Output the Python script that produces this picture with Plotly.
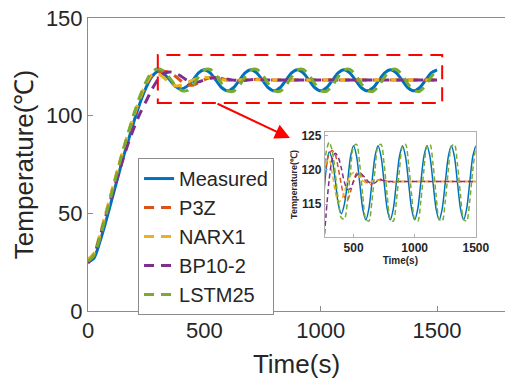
import plotly.graph_objects as go

# ---------------- data ----------------
time_s = list(range(0, 1501, 25))

measured = [25.0, 27.0, 35.0, 45.0, 56.0, 67.0, 78.0, 88.0, 98.0, 107.0,
            114.5, 120.0, 122.6, 121.5, 118.5, 115.0, 113.6, 115.0, 118.1, 121.9,
            123.5, 121.9, 118.1, 114.3, 112.7, 114.3, 118.1, 121.9,
            123.5, 121.9, 118.1, 114.3, 112.7, 114.3, 118.1, 121.9,
            123.5, 121.9, 118.1, 114.3, 112.7, 114.3, 118.1, 121.9,
            123.5, 121.9, 118.1, 114.3, 112.7, 114.3, 118.1, 121.9,
            123.5, 121.9, 118.1, 114.3, 112.7, 114.3, 118.1, 121.9,
            123.5]

p3z = [26.0, 29.0, 38.0, 49.0, 60.0, 71.0, 81.5, 91.5, 100.5, 109.0,
       116.0, 120.5, 122.3, 122.8, 122.2, 120.2, 117.8, 116.0, 115.6, 116.8,
       118.4, 119.5, 119.6, 119.0, 118.3, 117.9, 117.9, 118.2, 118.5, 118.6,
       118.5, 118.3, 118.2, 118.2, 118.3, 118.3, 118.3, 118.3, 118.3, 118.3,
       118.3, 118.3, 118.3, 118.3, 118.3, 118.3, 118.3, 118.3, 118.3, 118.3,
       118.3, 118.3, 118.3, 118.3, 118.3, 118.3, 118.3, 118.3, 118.3, 118.3,
       118.3]

narx1 = [26.5, 29.5, 38.5, 49.5, 60.5, 71.5, 82.0, 92.0, 101.0, 109.5,
         116.5, 121.0, 121.5, 119.5, 116.8, 115.3, 115.6, 116.8, 118.2, 119.2,
         119.6, 119.4, 118.9, 118.4, 118.1, 118.1, 118.3, 118.5, 118.5, 118.4,
         118.3, 118.3, 118.3, 118.3, 118.3, 118.3, 118.3, 118.3, 118.3, 118.3,
         118.3, 118.3, 118.3, 118.3, 118.3, 118.3, 118.3, 118.3, 118.3, 118.3,
         118.3, 118.3, 118.3, 118.3, 118.3, 118.3, 118.3, 118.3, 118.3, 118.3,
         118.3]

bp10_2 = [24.5, 28.5, 37.5, 48.0, 58.0, 68.0, 77.5, 86.5, 94.5, 101.5,
          107.5, 113.5, 118.5, 121.5, 122.4, 121.8, 120.2, 118.2, 117.1, 117.3,
          118.3, 119.2, 119.5, 119.2, 118.7, 118.2, 118.0, 118.1, 118.4, 118.5,
          118.4, 118.3, 118.3, 118.3, 118.3, 118.3, 118.3, 118.3, 118.3, 118.3,
          118.3, 118.3, 118.3, 118.3, 118.3, 118.3, 118.3, 118.3, 118.3, 118.3,
          118.3, 118.3, 118.3, 118.3, 118.3, 118.3, 118.3, 118.3, 118.3, 118.3,
          118.3]

lstm25 = [25.5, 28.5, 37.0, 48.0, 59.5, 71.0, 82.0, 92.0, 102.0, 110.5,
          117.5, 122.5, 124.0, 122.8, 119.5, 115.5, 113.0, 112.8, 115.4, 119.9,
          123.4, 123.7, 120.8, 116.3, 112.8, 112.5, 115.4, 119.9,
          123.4, 123.7, 120.8, 116.3, 112.8, 112.5, 115.4, 119.9,
          123.4, 123.7, 120.8, 116.3, 112.8, 112.5, 115.4, 119.9,
          123.4, 123.7, 120.8, 116.3, 112.8, 112.5, 115.4, 119.9,
          123.4, 123.7, 120.8, 116.3, 112.8, 112.5, 115.4, 119.9,
          123.4]

series_names = ["Measured", "P3Z", "NARX1", "BP10-2", "LSTM25"]
series_vals = [measured, p3z, narx1, bp10_2, lstm25]
series_colors = ["#0072BD", "#D95319", "#EDB120", "#7E2F8E", "#77AC30"]

main_xticks = [0, 500, 1000, 1500]
main_yticks = [0, 50, 100, 150]
inset_xticks = [500, 1000, 1500]
inset_yticks = [115, 120, 125]

zoom_box = dict(x0=300, x1=1522, y0=106.5, y1=131)

# ---------------- figure ----------------
FONT = "Liberation Sans, Arial, sans-serif"
AX = "#8c8c8c"
TXT = "#262626"

fig = go.Figure()

for name, vals, col in zip(series_names, series_vals, series_colors):
    dash = "solid" if name == "Measured" else "10px,7px"
    fig.add_trace(go.Scatter(
        x=time_s, y=vals, mode="lines", name=name,
        line=dict(color=col, width=3, dash=dash, shape="spline", smoothing=0.8),
        xaxis="x", yaxis="y"))

for name, vals, col in zip(series_names, series_vals, series_colors):
    dash = "solid" if name == "Measured" else "5px,3px"
    fig.add_trace(go.Scatter(
        x=time_s, y=vals, mode="lines", name=name, showlegend=False,
        line=dict(color=col, width=1.5, dash=dash, shape="spline", smoothing=0.8),
        xaxis="x2", yaxis="y2"))

# zoom rectangle on main axes
fig.add_shape(type="rect", xref="x", yref="y", **zoom_box,
              line=dict(color="#FF0000", width=2, dash="14px,8px"))

# white background of the inset
fig.add_shape(type="rect", xref="paper", yref="paper",
              x0=0.568, x1=0.930, y0=0.2526, y1=0.611,
              fillcolor="white", line=dict(width=0), layer="below")

# arrow from rectangle to inset
fig.add_annotation(xref="paper", yref="paper", x=0.4844, y=0.5904,
                   ax=-74, ay=-35, axref="pixel", ayref="pixel",
                   showarrow=True, arrowhead=2, arrowsize=1.5, arrowwidth=2,
                   arrowcolor="#FF0000", text="")

fig.update_layout(
    template="none",
    width=505, height=384,
    margin=dict(l=88, r=0, t=18, b=73, autoexpand=False),
    paper_bgcolor="white", plot_bgcolor="white",
    font=dict(family=FONT, color=TXT),
    showlegend=True,
    legend=dict(x=0.12, y=0.522, xanchor="left", yanchor="top",
                bgcolor="white", bordercolor=AX, borderwidth=1,
                font=dict(size=20, family=FONT, color=TXT),
                itemwidth=30, tracegroupgap=0),
    xaxis=dict(domain=[0, 1], range=[0, 1792], tickvals=main_xticks,
               automargin=False,
               showline=True, mirror=True, linecolor=AX, linewidth=1,
               ticks="inside", ticklen=5, tickcolor=AX, showgrid=False,
               zeroline=False, tickfont=dict(size=22, color=TXT),
               title=dict(text="Time(s)", font=dict(size=26, color=TXT), standoff=12)),
    yaxis=dict(domain=[0, 1], range=[0, 150], tickvals=main_yticks,
               automargin=False,
               showline=True, mirror=True, linecolor=AX, linewidth=1,
               ticks="inside", ticklen=5, tickcolor=AX, showgrid=False,
               zeroline=False, tickfont=dict(size=22, color=TXT),
               title=dict(text="Temperature(℃)", font=dict(size=26, color=TXT), standoff=4)),
    xaxis2=dict(domain=[0.568, 0.930], anchor="y2", range=[265, 1500],
                automargin=False,
                tickvals=inset_xticks, showline=True, mirror=True,
                linecolor="#b0b0b0", linewidth=1, ticks="inside", ticklen=3,
                tickcolor="#b0b0b0", showgrid=False, zeroline=False,
                tickfont=dict(size=12, color=TXT, weight="bold"),
                title=dict(text="Time(s)", font=dict(size=10, color=TXT, weight="bold"),
                           standoff=0)),
    yaxis2=dict(domain=[0.2526, 0.611], anchor="x2", range=[110.2, 125.5],
                automargin=False,
                tickvals=inset_yticks, showline=True, mirror=True,
                linecolor="#b0b0b0", linewidth=1, ticks="inside", ticklen=3,
                tickcolor="#b0b0b0", showgrid=False, zeroline=False,
                tickfont=dict(size=12, color=TXT, weight="bold"),
                title=dict(text="Temperature(℃)", font=dict(size=9, color=TXT, weight="bold"),
                           standoff=2)),
)

fig.write_html("out.html")
